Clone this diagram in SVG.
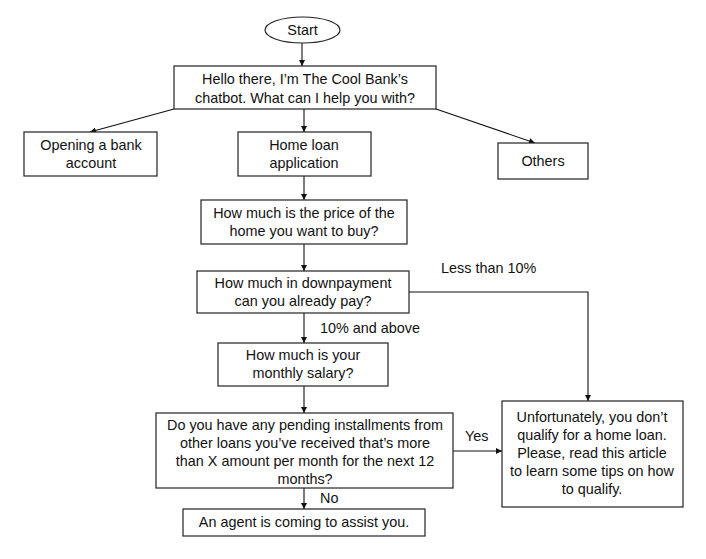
<svg xmlns="http://www.w3.org/2000/svg" width="706" height="559" viewBox="0 0 706 559">
<style>
.n{fill:#fff;stroke:#222;stroke-width:1.2}
.t{font-family:"Liberation Sans",Arial,sans-serif;font-size:14.4px;fill:#111;text-anchor:middle}
.l{font-family:"Liberation Sans",Arial,sans-serif;font-size:14.4px;fill:#111}
.c{fill:none;stroke:#111;stroke-width:1.1}
</style>
<defs>
<marker id="ah" viewBox="0 0 10 10" refX="10" refY="5" markerWidth="6" markerHeight="6" markerUnits="userSpaceOnUse" orient="auto">
<path d="M0,0 L10,5 L0,10 z" fill="#111"/>
</marker>
</defs>
<rect width="706" height="559" fill="#fff"/>
<g id="connectors">
<line class="c" x1="302" y1="43" x2="302" y2="66" marker-end="url(#ah)"/>
<line class="c" x1="174" y1="109" x2="90" y2="132" marker-end="url(#ah)"/>
<line class="c" x1="304" y1="109" x2="304" y2="132" marker-end="url(#ah)"/>
<line class="c" x1="436" y1="109" x2="535" y2="143" marker-end="url(#ah)"/>
<line class="c" x1="304" y1="176" x2="304" y2="200" marker-end="url(#ah)"/>
<line class="c" x1="304" y1="244" x2="304" y2="271" marker-end="url(#ah)"/>
<polyline class="c" points="409,292 588,292 588,401" marker-end="url(#ah)"/>
<line class="c" x1="304" y1="313" x2="304" y2="343" marker-end="url(#ah)"/>
<line class="c" x1="304" y1="386" x2="304" y2="413" marker-end="url(#ah)"/>
<line class="c" x1="453" y1="451" x2="502" y2="451" marker-end="url(#ah)"/>
<line class="c" x1="304" y1="488" x2="304" y2="509" marker-end="url(#ah)"/>
<text class="l" x="441" y="273">Less than 10%</text>
<text class="l" x="320" y="333">10% and above</text>
<text class="l" x="465" y="441">Yes</text>
<text class="l" x="320" y="503">No</text>
</g>
<g id="start">
<ellipse class="n" cx="302.5" cy="30" rx="37.5" ry="13"/>
<text class="t" x="302.5" y="35">Start</text>
</g>
<g id="hello">
<rect class="n" x="174" y="66" width="262" height="43"/>
<text class="t" x="305" y="84">Hello there, I’m The Cool Bank’s</text>
<text class="t" x="305" y="103">chatbot. What can I help you with?</text>
</g>
<g id="opening">
<rect class="n" x="24" y="132" width="133" height="44"/>
<text class="t" x="91" y="150">Opening a bank</text>
<text class="t" x="91" y="168">account</text>
</g>
<g id="homeloan">
<rect class="n" x="238" y="132" width="133" height="44"/>
<text class="t" x="304" y="150">Home loan</text>
<text class="t" x="304" y="168">application</text>
</g>
<g id="others">
<rect class="n" x="498" y="143" width="90" height="36"/>
<text class="t" x="543" y="166">Others</text>
</g>
<g id="price">
<rect class="n" x="201" y="200" width="206" height="44"/>
<text class="t" x="304" y="218">How much is the price of the</text>
<text class="t" x="304" y="236">home you want to buy?</text>
</g>
<g id="downpayment">
<rect class="n" x="197" y="271" width="212" height="42"/>
<text class="t" x="303" y="288">How much in downpayment</text>
<text class="t" x="303" y="306">can you already pay?</text>
</g>
<g id="salary">
<rect class="n" x="218" y="343" width="170" height="43"/>
<text class="t" x="303" y="360">How much is your</text>
<text class="t" x="303" y="378">monthly salary?</text>
</g>
<g id="pending">
<rect class="n" x="156" y="413" width="297" height="75"/>
<text class="t" x="305" y="430">Do you have any pending installments from</text>
<text class="t" x="305" y="448">other loans you’ve received that’s more</text>
<text class="t" x="305" y="466">than X amount per month for the next 12</text>
<text class="t" x="305" y="484">months?</text>
</g>
<g id="unqualified">
<rect class="n" x="502" y="401" width="181" height="106"/>
<text class="t" x="592" y="422">Unfortunately, you don’t</text>
<text class="t" x="592" y="440">qualify for a home loan.</text>
<text class="t" x="592" y="458">Please, read this article</text>
<text class="t" x="592" y="476">to learn some tips on how</text>
<text class="t" x="592" y="494">to qualify.</text>
</g>
<g id="agent">
<rect class="n" x="183" y="509" width="242" height="27"/>
<text class="t" x="304" y="527">An agent is coming to assist you.</text>
</g>
</svg>
